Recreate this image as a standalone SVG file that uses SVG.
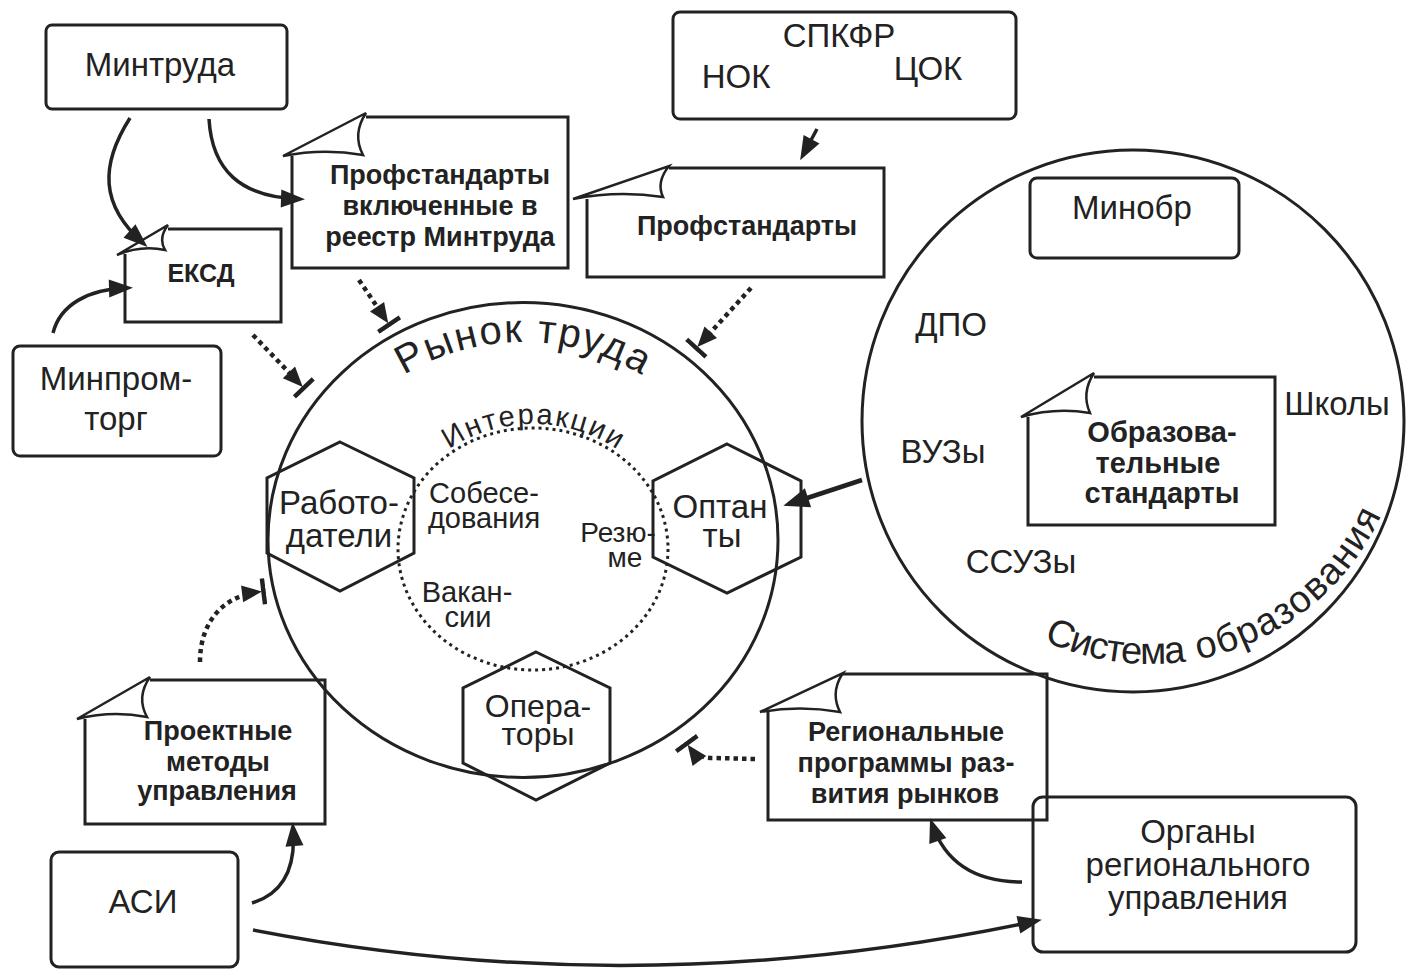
<svg xmlns="http://www.w3.org/2000/svg" width="1406" height="976" viewBox="0 0 1406 976">
<style>
  .box { fill: none; stroke: #222; stroke-width: 3; }
  .flap { fill: #fff; stroke: #222; stroke-width: 2.5; stroke-linejoin: miter; }
  .hex { fill: none; stroke: #222; stroke-width: 3; stroke-linejoin: miter; }
  .ring { fill: none; stroke: #222; stroke-width: 3; }
  .dots { fill: none; stroke: #222; stroke-width: 3; stroke-dasharray: 3 4; }
  .arr { fill: none; stroke: #222; stroke-width: 3.5; }
  .darr { fill: none; stroke: #222; stroke-width: 4.5; stroke-dasharray: 4.5 4; }
  text { font-family: "Liberation Sans", Arial, sans-serif; fill: #222; }
  .t { font-size: 33px; text-anchor: middle; }
  .b { font-size: 27px; font-weight: bold; text-anchor: middle; }
  .s { font-size: 29px; text-anchor: middle; }
</style>
<defs>
  <marker id="ah" viewBox="-20 -11 28 22" refX="0" refY="0" markerWidth="28" markerHeight="22" markerUnits="userSpaceOnUse" orient="auto">
    <path d="M-18,-9 L6,0 L-18,9 Z" fill="#222"/>
  </marker>
  <marker id="ahL" viewBox="-22 -12 30 24" refX="0" refY="0" markerWidth="30" markerHeight="24" markerUnits="userSpaceOnUse" orient="auto">
    <path d="M-20,-10 L6,0 L-20,10 Z" fill="#222"/>
  </marker>
  <marker id="tee" viewBox="-18 -15 26 30" refX="0" refY="0" markerWidth="26" markerHeight="30" markerUnits="userSpaceOnUse" orient="auto">
    <path d="M-16,-8.5 L4,0 L-16,8.5 Z" fill="#222"/>
    <line x1="5.5" y1="-13" x2="5.5" y2="13" stroke="#222" stroke-width="4.5"/>
  </marker>
  <path id="pRynok" d="M308,540 A215,198 0 0 1 738,540"/>
  <path id="pInter" d="M394,549 A139,125 0 0 1 672,549"/>
  <path id="pSys" d="M1034.7,636.3 A254,254 0 0 0 1400.1,454.1"/>
</defs>

<!-- Рынок труда -->
<g id="rynok">
  <ellipse class="ring" cx="523" cy="540" rx="255" ry="237.5"/>
  <text style="font-size:40px"><textPath href="#pRynok" startOffset="50%" text-anchor="middle" textLength="250" lengthAdjust="spacing">Рынок труда</textPath></text>
</g>
<g id="interakcii">
  <ellipse class="dots" cx="533" cy="549" rx="135" ry="121"/>
  <text style="font-size:29px"><textPath href="#pInter" startOffset="50%" text-anchor="middle" textLength="178" lengthAdjust="spacing">Интеракции</textPath></text>
  <text class="s"><tspan x="484" y="503">Собесе-</tspan><tspan x="484" y="528">дования</tspan></text>
  <text class="s" style="font-size:28px"><tspan x="618" y="542">Резю-</tspan><tspan x="625" y="567">ме</tspan></text>
  <text class="s"><tspan x="467" y="602">Вакан-</tspan><tspan x="468" y="627">сии</tspan></text>
</g>
<g id="rabotodateli">
  <polygon class="hex" points="340,442 414,478 414,553 340,591 267,553 267,478"/>
  <text class="t"><tspan x="339" y="514">Работо-</tspan><tspan x="339" y="547">датели</tspan></text>
</g>
<g id="optany">
  <polygon class="hex" points="727,444 801,481 801,557 727,593 653,557 653,481"/>
  <text class="t"><tspan x="720" y="518">Оптан</tspan><tspan x="722" y="547">ты</tspan></text>
</g>
<g id="operatory">
  <polygon class="hex" points="536,652 610,688 610,763 536,800 463,763 463,688"/>
  <text class="t" style="font-size:32px"><tspan x="538" y="717">Опера-</tspan><tspan x="538" y="745">торы</tspan></text>
</g>

<!-- Система образования -->
<g id="sistema">
  <circle class="ring" cx="1133" cy="421" r="271"/>
  <text style="font-size:38px"><textPath href="#pSys" startOffset="10" textLength="146" lengthAdjust="spacing">Система</textPath></text>
  <text style="font-size:38px"><textPath href="#pSys" startOffset="168" textLength="242" lengthAdjust="spacing">образования</textPath></text>
  <text class="t"><tspan x="951" y="336">ДПО</tspan></text>
  <text class="t"><tspan x="943" y="463">ВУЗы</tspan></text>
  <text class="t"><tspan x="1021" y="573">ССУЗы</tspan></text>
  <text class="t"><tspan x="1337" y="415">Школы</tspan></text>
</g>
<g id="minobr">
  <rect class="box" x="1030" y="178" width="209" height="80" rx="7"/>
  <text class="t" x="1132" y="219">Минобр</text>
</g>
<g id="obrstandarty">
  <path class="box" d="M1094,377 L1275,377 L1275,525 L1028,525 L1028,417"/>
  <path class="flap" d="M1021,417 L1094,373 Q1081,393 1090,413 Q1055,407 1021,417 Z"/>
  <text class="b" style="font-size:29px"><tspan x="1162" y="442">Образова-</tspan><tspan x="1158" y="473">тельные</tspan><tspan x="1162" y="503">стандарты</tspan></text>
</g>

<!-- Top-left nodes -->
<g id="mintruda">
  <rect class="box" x="46" y="25" width="241" height="84" rx="6"/>
  <text class="t" x="160" y="76">Минтруда</text>
</g>
<g id="eksd">
  <path class="box" d="M168,229 L281,229 L281,322 L125,322 L125,254"/>
  <path class="flap" d="M117,255 L168,225 Q158,238 165,250 Q141,245 117,255 Z"/>
  <text class="b" style="font-size:25px" x="201" y="282">ЕКСД</text>
</g>
<g id="profst-reestr">
  <path class="box" d="M366,117 L568,117 L568,268 L292,268 L292,156"/>
  <path class="flap" d="M283,156 L366,113 Q352,134 363,155 Q323,148 283,156 Z"/>
  <text class="b"><tspan x="440" y="184">Профстандарты</tspan><tspan x="440" y="215">включенные в</tspan><tspan x="440" y="246">реестр Минтруда</tspan></text>
</g>
<g id="minpromtorg">
  <rect class="box" x="13" y="346" width="208" height="110" rx="7"/>
  <text class="t"><tspan x="116" y="390">Минпром-</tspan><tspan x="116" y="430">торг</tspan></text>
</g>
<g id="spkfr">
  <rect class="box" x="673" y="12" width="343" height="107" rx="7"/>
  <text class="t" x="839" y="47">СПКФР</text>
  <text class="t" x="736" y="88">НОК</text>
  <text class="t" x="928" y="80">ЦОК</text>
</g>
<g id="profst">
  <path class="box" d="M669,168 L884,168 L884,277 L587,277 L587,199"/>
  <path class="flap" d="M573,199 L669,166 Q656,182 663,197 Q618,190 573,199 Z"/>
  <text class="b" x="747" y="235">Профстандарты</text>
</g>

<!-- Bottom nodes -->
<g id="proektnye">
  <path class="box" d="M150,680 L325,680 L325,824 L85,824 L85,719"/>
  <path class="flap" d="M77,719 L150,677 Q136,697 147,717 Q112,710 77,719 Z"/>
  <text class="b"><tspan x="218" y="740">Проектные</tspan><tspan x="218" y="771">методы</tspan><tspan x="217" y="800">управления</tspan></text>
</g>
<g id="asi">
  <rect class="box" x="51" y="852" width="187" height="115" rx="8"/>
  <text class="t" x="143" y="913">АСИ</text>
</g>
<g id="regprog">
  <path class="box" d="M843,674 L1047,674 L1047,820 L768,820 L768,712"/>
  <path class="flap" d="M760,712 L843,673 Q830,692 840,712 Q800,705 760,712 Z"/>
  <text class="b"><tspan x="906" y="741">Региональные</tspan><tspan x="906" y="772">программы раз-</tspan><tspan x="905" y="803">вития рынков</tspan></text>
</g>
<g id="organy">
  <rect class="box" x="1033" y="797" width="323" height="155" rx="10"/>
  <text class="t"><tspan x="1198" y="843">Органы</tspan><tspan x="1198" y="876">регионального</tspan><tspan x="1198" y="909">управления</tspan></text>
</g>

<!-- Connectors -->
<g id="connectors">
  <path class="arr" marker-end="url(#ah)" d="M130,118 C100,165 100,205 143,243"/>
  <path class="arr" marker-end="url(#ah)" d="M209,119 C212,170 240,197 299,199"/>
  <path class="arr" marker-end="url(#ah)" d="M53,333 C60,305 88,289 127,288"/>
  <path class="arr" marker-end="url(#ah)" d="M817,129 L803,155"/>
  <path class="arr" marker-end="url(#ah)" d="M1022,882 C975,882 945,862 932,824"/>
  <path class="arr" marker-end="url(#ah)" d="M252,903 C285,893 296,865 293,828"/>
  <path class="arr" marker-end="url(#ah)" d="M253,930 Q640,1005 1036,921"/>
  <path class="arr" style="stroke-width:4.5" marker-end="url(#ahL)" d="M862,480 L789,504"/>
  <path class="darr" marker-end="url(#tee)" d="M253,335 L300,384"/>
  <path class="darr" marker-end="url(#tee)" d="M359,280 L386,320"/>
  <path class="darr" marker-end="url(#tee)" d="M751,288 L700,344"/>
  <path class="darr" marker-end="url(#tee)" d="M200,662 C200,620 225,596 258,592"/>
  <path class="darr" marker-end="url(#tee)" d="M755,759 L715,758 Q698,759 690,748"/>
</g>
</svg>
